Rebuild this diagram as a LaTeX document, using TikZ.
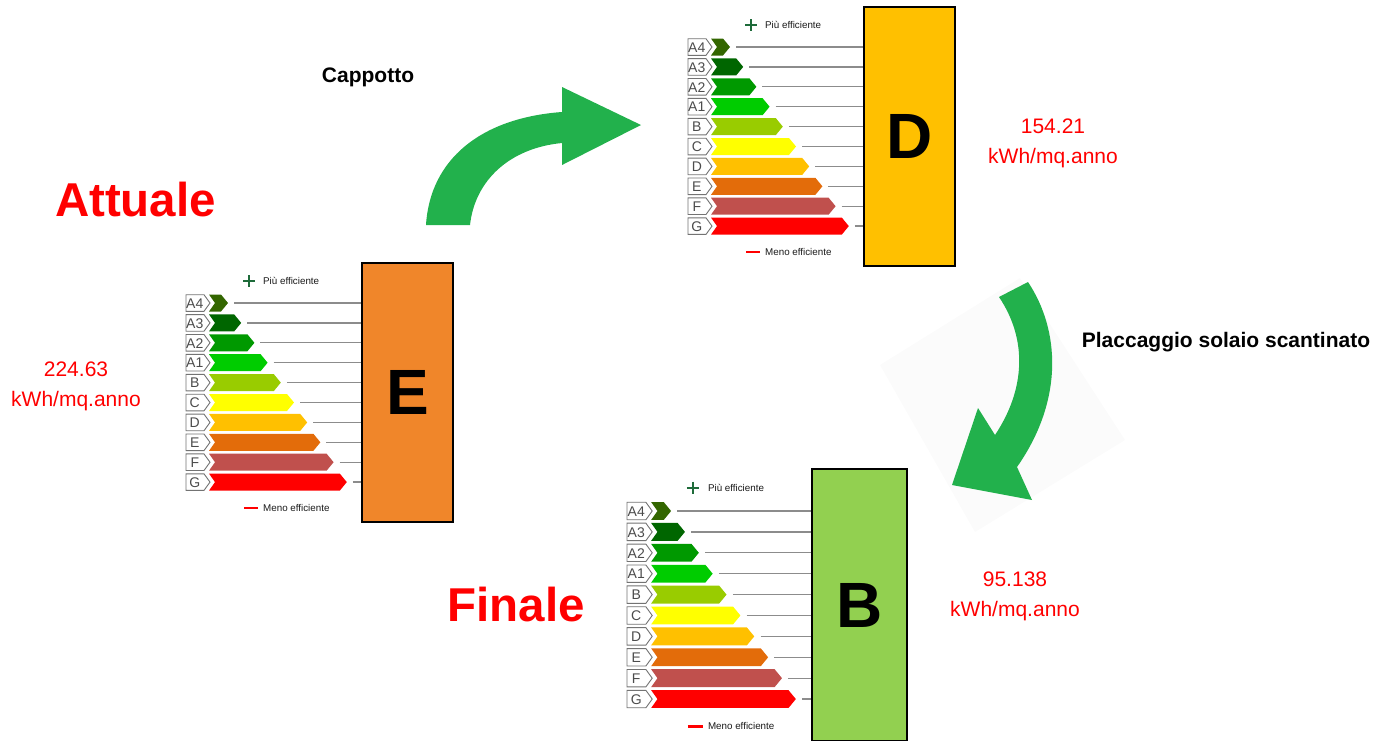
\documentclass[tikz,border=0pt]{standalone}
\usepackage{fontspec}
\setmainfont{Liberation Sans}
\definecolor{kAfour}{HTML}{336600}
\definecolor{kAthree}{HTML}{006600}
\definecolor{kAtwo}{HTML}{009900}
\definecolor{kAone}{HTML}{00CC00}
\definecolor{kB}{HTML}{99CC00}
\definecolor{kC}{HTML}{FFFF00}
\definecolor{kD}{HTML}{FFC000}
\definecolor{kE}{HTML}{E36C0A}
\definecolor{kF}{HTML}{C0504D}
\definecolor{kG}{HTML}{FF0000}
\definecolor{rectE}{HTML}{F0862A}
\definecolor{rectD}{HTML}{FFC000}
\definecolor{rectB}{HTML}{92D050}
\definecolor{arrowgreen}{HTML}{22B14C}
\definecolor{plusgreen}{HTML}{1E6B3A}
\definecolor{txtred}{HTML}{FF0000}
\tikzset{
  gline/.style={draw=black!45, line width=1.3},
  boxline/.style={draw=black!55, line width=0.9, fill=white},
  lettxt/.style={inner sep=0, text=black!70, font=\fontsize{14}{14}\selectfont},
  bigrect/.style={draw=black, line width=2},
  bigletter/.style={inner sep=0, font=\fontsize{64}{70}\selectfont\bfseries},
  smalltxt/.style={inner sep=0, anchor=west, text=black!90, font=\fontsize{9.8}{11}\selectfont},
  valtxt/.style={inner sep=0, text=txtred, align=center, font=\fontsize{21}{30}\selectfont},
  titletxt/.style={inner sep=0, text=txtred, font=\fontsize{47.5}{50}\selectfont\bfseries},
  steptxt/.style={inner sep=0, font=\fontsize{21}{24}\selectfont\bfseries},
  bigarrow/.style={fill=arrowgreen},
}
% #1 x, #2 y, #3 scale, #4 fill colour, #5 letter, #6 name
\newcommand\energylabel[6]{%
\begin{scope}[shift={(#1,#2)}, scale=#3]
  \foreach \lab/\col [count=\i from 0] in {A4/kAfour, A3/kAthree, A2/kAtwo, A1/kAone, B/kB, C/kC, D/kD, E/kE, F/kF, G/kG} {
    \pgfmathsetmacro\tip{42+13.2*\i}
    \begin{scope}[shift={(0,19.9*\i)}]
      \draw[boxline] (0,-8.3) -- (18,-8.3) -- (24,0) -- (18,8.3) -- (0,8.3) -- cycle;
      \node[lettxt] (#6-\lab) at (8.8,0.4) {\lab};
      \fill[\col] (23,-8.5) -- (\tip-7,-8.5) -- (\tip,0) -- (\tip-7,8.5) -- (23,8.5) -- (29,0) -- cycle;
      \draw[gline] (\tip+6,0) -- (176,0);
    \end{scope}
  }
  \draw[bigrect, fill=#4] (176,-40) rectangle (267,219);
  \node[bigletter] (#6) at (221.5,89.5) {#5};
  \draw[plusgreen, line width=2.2] (57,-22) -- (69,-22) (63,-28) -- (63,-16);
  \node[smalltxt] (#6-piu) at (77,-22) {Più efficiente};
  \draw[kG, line width=2.5] (58,205) -- (72,205);
  \node[smalltxt] (#6-meno) at (77,205) {Meno efficiente};
\end{scope}}
\begin{document}
\begin{tikzpicture}[x=1pt, y=-1pt]
\useasboundingbox (0,0) rectangle (1379,740);
% faint background of the second arrow
\fill[black!1.5] (1020,278) -- (1125,440) -- (975,532) -- (880,365) -- cycle;

\energylabel{186}{303}{1}{rectE}{E}{lblE}
\energylabel{688}{47}{1}{rectD}{D}{lblD}
\energylabel{627}{511}{1.05}{rectB}{B}{lblB}

% arrow 1 (Cappotto)
\fill[bigarrow] (426,225) .. controls (430,160) and (480,118) .. (562,112)
  -- (562,87) -- (641,125) -- (562,165) -- (562,143)
  .. controls (510,148) and (475,180) .. (470,225) -- cycle;
% arrow 2 (Placcaggio)
\fill[bigarrow] (1028,282) .. controls (1060,330) and (1064,400) .. (1017,467)
  -- (1032,500) -- (952,485) -- (978,408) -- (995,435)
  .. controls (1025,390) and (1028,340) .. (999,297) -- cycle;

\node[titletxt] (attuale) at (135.5,200) {Attuale};
\node[titletxt] (finale) at (516,605) {Finale};
\node[steptxt] (cappotto) at (368,77) {Cappotto};
\node[steptxt] (placc) at (1226,342) {Placcaggio solaio scantinato};

\node[valtxt] (valE) at (76,386) {224.63\\kWh/mq.anno};
\node[valtxt] (valD) at (1053,143) {154.21\\kWh/mq.anno};
\node[valtxt] (valB) at (1015,596) {95.138\\kWh/mq.anno};
\end{tikzpicture}
\end{document}
